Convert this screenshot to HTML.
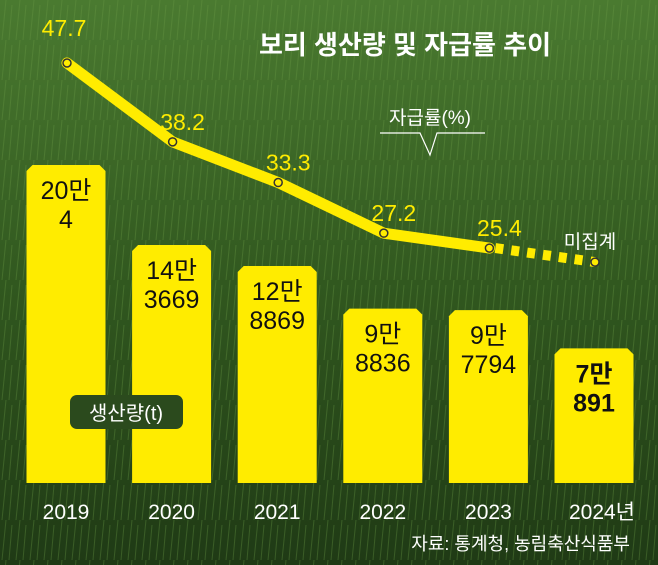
<!DOCTYPE html>
<html><head><meta charset="utf-8"><style>
body{margin:0;width:658px;height:565px;overflow:hidden;font-family:"Liberation Sans","Noto Sans CJK KR",sans-serif}
svg{display:block}
</style></head><body>
<svg id="c" width="658" height="565">
<defs>
<linearGradient id="bg" x1="0" y1="0" x2="0" y2="1">
<stop offset="0" stop-color="#4a7a30"/><stop offset="0.5" stop-color="#31581f"/><stop offset="1" stop-color="#1f3a15"/>
</linearGradient>
<pattern id="grass" width="14" height="40" patternUnits="userSpaceOnUse">
<path d="M2 40 L6 0 M9 40 L12 5" stroke="#6a9a44" stroke-width="1" opacity="0.35"/>
</pattern>
</defs>
<rect width="658" height="565" fill="url(#bg)"/>
<rect width="658" height="565" fill="url(#grass)"/>
<text x="405" y="54" fill="#fff" font-size="26" font-weight="bold" text-anchor="middle">보리 생산량 및 자급률 추이</text>
<g id="bars"></g><g id="line"></g>
<text x="430" y="124" fill="#fff" font-size="19" text-anchor="middle">자급률(%)</text>
<path d="M380 133 H420 L430 155 L437 133 H485" stroke="#fff" fill="none" stroke-width="1.2"/>
<text x="590" y="248" fill="#fff" font-size="19" text-anchor="middle">미집계</text>
<rect x="70" y="395" width="113" height="34" rx="7" fill="#2b4a1d"/>
<text x="126" y="420" fill="#fff" font-size="20" text-anchor="middle">생산량(t)</text>
<text x="630" y="550" fill="#fff" font-size="18" text-anchor="end">자료: 통계청, 농림축산식품부</text>
</svg>
<script>
const years=["2019","2020","2021","2022","2023","2024년"];
const production=[200004,143669,128869,98836,97794,70891];
const prodLabels=[["20만","4"],["14만","3669"],["12만","8869"],["9만","8836"],["9만","7794"],["7만","891"]];
const rates=[47.7,38.2,33.3,27.2,25.4,null];
const rateLabels=["47.7","38.2","33.3","27.2","25.4",""];
const ns="http://www.w3.org/2000/svg";
const xc=i=>66+i*105.6, bw=79, base=483;
const yb=v=>165+(200004-v)*0.00142;
const yr=v=>63+(47.7-v)*8.3;
const bars=document.getElementById('bars'), line=document.getElementById('line');
function mk(t,a,p){const e=document.createElementNS(ns,t);for(const k in a)e.setAttribute(k,a[k]);p.appendChild(e);return e;}
production.forEach((v,i)=>{
 const x=xc(i)-bw/2, t=yb(v), c=6;
 const b=mk('path',{d:`M${x} ${base} V${t+c} L${x+c} ${t} H${x+bw-c} L${x+bw} ${t+c} V${base} Z`,fill:'#ffec00'},bars);
 
 
 const bold=i==5;
 prodLabels[i].forEach((s,j)=>{
  const tx=mk('text',{x:xc(i),y:t+34+j*29,'font-size':25,'text-anchor':'middle',fill:'#111','font-weight':bold?'bold':'normal'},bars);
  tx.textContent=s;
  
  
 });
 const yl=mk('text',{x:xc(i)+(i==5?8:0),y:519,'font-size':21,'text-anchor':'middle',fill:'#fff'},bars);
 yl.textContent=years[i];
 
 
});
let pts=[];
rates.forEach((v,i)=>{if(v!==null)pts.push([xc(i)+1,yr(v)]);});
const solid=mk('polyline',{points:pts.map(p=>p.join(',')).join(' '),fill:'none',stroke:'#ffec00','stroke-width':11,'stroke-linejoin':'round','stroke-linecap':'round'},line);


const last=pts[pts.length-1], endP=[xc(5)+1,last[1]+14];
const d=mk('line',{x1:last[0]+6,y1:last[1],x2:endP[0],y2:endP[1],stroke:'#ffec00','stroke-width':10,'stroke-dasharray':'8 8'},line);


[...pts,endP].forEach((p,i)=>{
 const c=mk('circle',{cx:p[0],cy:p[1],r:4,fill:'#ffec00',stroke:'#333','stroke-width':1.5},line);
 
 
});
pts.forEach((p,i)=>{
 const t=mk('text',{x:p[0]+(i==0?-3:10),y:p[1]-(i==0?27:12),'font-size':23,'text-anchor':'middle',fill:'#ffec00'},line);
 t.textContent=rateLabels[i];
 
 
});
</script>
</body></html>
